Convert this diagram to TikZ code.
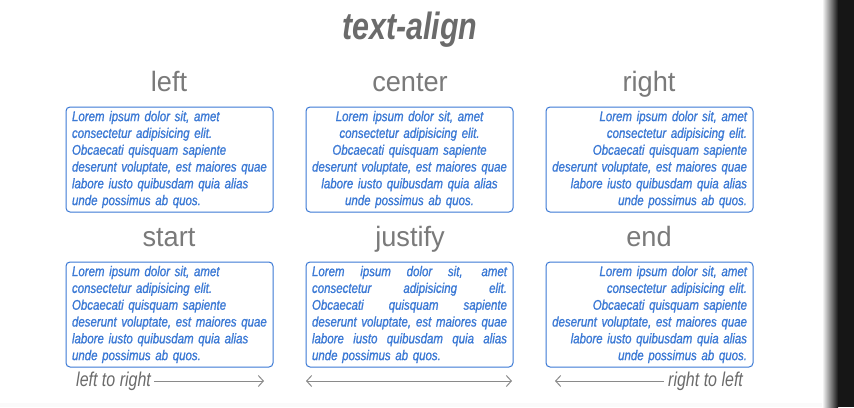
\documentclass[tikz,border=0pt]{standalone}
\usepackage{fontspec}
\setmainfont{Liberation Sans}[FakeStretch=0.8]
\newfontfamily\loremfont{Liberation Sans}[FakeStretch=0.82, FakeBold=1]
\newfontfamily\headfont{Liberation Sans}[FakeStretch=0.97]
\usetikzlibrary{arrows.meta}

\definecolor{headgray}{HTML}{6B6B6B}
\definecolor{loremblue}{HTML}{3B79D5}
\definecolor{boxblue}{HTML}{6399E0}
\definecolor{arrowgray}{HTML}{8A8A8A}
\definecolor{shadowdark}{HTML}{161616}

\newcommand{\spreadline}[1]{\leavevmode\hbox to 195pt{\spaceskip=0.25em plus 1fil\relax #1}}

\begin{document}
\begin{tikzpicture}[x=1pt,y=-1pt,
  heading/.style={headgray!90, font=\headfont\fontsize{28}{30}\selectfont, anchor=base},
  lorembox/.style={draw=boxblue, line width=1pt, rounded corners=4pt,
    minimum width=207pt, minimum height=105pt, inner sep=0pt,
    text width=195pt, loremblue,
    font=\loremfont\fontsize{14}{16.8}\selectfont\itshape},
  dirlabel/.style={headgray, font=\fontsize{20}{22}\selectfont\itshape, anchor=base west},
  dirarrow/.style={arrowgray, line width=1pt, -{Straight Barb[length=5pt,width=11pt]}}]
\useasboundingbox (0,0) rectangle (854,407);
\fill[white] (0,0) rectangle (854,407);
\fill[gray!4] (0,403) rectangle (822,407);
\shade[left color=white, right color=shadowdark] (822,0) rectangle (838,407);
\fill[shadowdark] (838,0) rectangle (854,407);

\node[headgray, font=\fontsize{38}{40}\selectfont\bfseries\itshape] (title) at (410,30) {text-align};

\node[heading] (hleft) at (169,91) {left};
\node[heading] (hcenter) at (410,91) {center};
\node[heading] (hright) at (649,91) {right};
\node[heading] (hstart) at (169,246) {start};
\node[heading] (hjustify) at (410,246) {justify};
\node[heading] (hend) at (649,246) {end};

\node[lorembox, align=left] (bleft) at (169.5,159.5) {Lorem ipsum dolor sit, amet\\ consectetur adipisicing elit.\\ Obcaecati quisquam sapiente\\ deserunt voluptate, est maiores quae\\ labore iusto quibusdam quia alias\\ unde possimus ab quos.};
\node[lorembox, align=center] (bcenter) at (409.5,159.5) {Lorem ipsum dolor sit, amet\\ consectetur adipisicing elit.\\ Obcaecati quisquam sapiente\\ deserunt voluptate, est maiores quae\\ labore iusto quibusdam quia alias\\ unde possimus ab quos.};
\node[lorembox, align=right] (bright) at (649.5,159.5) {Lorem ipsum dolor sit, amet\\ consectetur adipisicing elit.\\ Obcaecati quisquam sapiente\\ deserunt voluptate, est maiores quae\\ labore iusto quibusdam quia alias\\ unde possimus ab quos.};

\node[lorembox, align=left] (bstart) at (169.5,314.5) {Lorem ipsum dolor sit, amet\\ consectetur adipisicing elit.\\ Obcaecati quisquam sapiente\\ deserunt voluptate, est maiores quae\\ labore iusto quibusdam quia alias\\ unde possimus ab quos.};
\node[lorembox, align=left] (bjustify) at (409.5,314.5) {\spreadline{Lorem ipsum dolor sit, amet}\\ \spreadline{consectetur adipisicing elit.}\\ \spreadline{Obcaecati quisquam sapiente}\\ \spreadline{deserunt voluptate, est maiores quae}\\ \spreadline{labore iusto quibusdam quia alias}\\ unde possimus ab quos.};
\node[lorembox, align=right] (bend) at (649.5,314.5) {Lorem ipsum dolor sit, amet\\ consectetur adipisicing elit.\\ Obcaecati quisquam sapiente\\ deserunt voluptate, est maiores quae\\ labore iusto quibusdam quia alias\\ unde possimus ab quos.};

% directions
\node[dirlabel, inner sep=0pt] (ltr) at (76,386) {left to right};
\coordinate (ltrend) at (264,381);
\draw[dirarrow] (ltr.east |- ltrend) ++(3,0) -- (ltrend);

\coordinate (bothstart) at (306,381);
\coordinate (bothend) at (512,381);
\draw[dirarrow, {Straight Barb[length=5pt,width=11pt]}-{Straight Barb[length=5pt,width=11pt]}] (bothstart) -- (bothend);

\node[dirlabel, inner sep=0pt] (rtl) at (668,386) {right to left};
\coordinate (rtlend) at (555,381);
\draw[dirarrow] (rtl.west |- rtlend) ++(-4,0) -- (rtlend);
\end{tikzpicture}
\end{document}
